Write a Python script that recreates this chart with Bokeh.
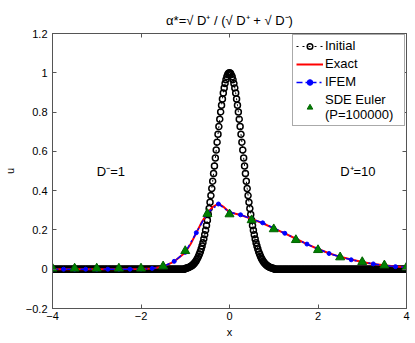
from bokeh.plotting import figure
from bokeh.models import Range1d, FixedTicker, LinearAxis, Legend, LegendItem, ColumnDataSource
from bokeh.core.properties import value
from bokeh.embed import file_html
from bokeh.resources import INLINE
import numpy as np

FONT = "Liberation Sans"

# ---------------- data ----------------
x_ticks = [-4, -2, 0, 2, 4]
x_tick_labels = ["\u22124", "\u22122", "0", "2", "4"]
y_ticks = [-0.2, 0, 0.2, 0.4, 0.6, 0.8, 1, 1.2]
y_tick_labels = ["\u22120.2", "0", "0.2", "0.4", "0.6", "0.8", "1", "1.2"]

# Initial condition: sampled every 0.02 on [-4, 4]
init_x = np.round(np.arange(-4, 4.0001, 0.02), 2)
init_left = [0.0] * 150     # x = -4.00 ... -1.02
init_peak = [               # x = -1.00 ... 1.00
    0.004, 0.005, 0.006, 0.007, 0.009, 0.011, 0.014, 0.016, 0.020, 0.024,
    0.029, 0.034, 0.040, 0.048, 0.056, 0.066, 0.077, 0.089, 0.103, 0.118,
    0.135, 0.154, 0.175, 0.198, 0.223, 0.249, 0.278, 0.309, 0.341, 0.375,
    0.411, 0.448, 0.487, 0.526, 0.566, 0.607, 0.647, 0.687, 0.726, 0.764,
    0.801, 0.835, 0.867, 0.897, 0.923, 0.946, 0.965, 0.980, 0.991, 0.998,
    1.000,
    0.998, 0.991, 0.980, 0.965, 0.946, 0.923, 0.897, 0.867, 0.835, 0.801,
    0.764, 0.726, 0.687, 0.647, 0.607, 0.566, 0.526, 0.487, 0.448, 0.411,
    0.375, 0.341, 0.309, 0.278, 0.249, 0.223, 0.198, 0.175, 0.154, 0.135,
    0.118, 0.103, 0.089, 0.077, 0.066, 0.056, 0.048, 0.040, 0.034, 0.029,
    0.024, 0.020, 0.016, 0.014, 0.011, 0.009, 0.007, 0.006, 0.005, 0.004,
]
init_right = [0.0] * 150    # x = 1.02 ... 4.00
init_u = init_left + init_peak + init_right

exact_x = [-4, -3, -2, -1.75, -1.5, -1.25, -1, -0.875, -0.75, -0.625, -0.5,
           -0.375, -0.25, -0.125, 0, 0.25, 0.5, 0.75, 1, 1.25, 1.5, 1.75,
           2, 2.25, 2.5, 2.75, 3, 3.25, 3.5, 3.75, 4]
exact_u = [0.0, 0.0, 0.001, 0.004, 0.013, 0.039, 0.085, 0.130, 0.185, 0.240,
           0.285, 0.318, 0.334, 0.316, 0.290, 0.276, 0.256, 0.234, 0.208,
           0.182, 0.155, 0.128, 0.103, 0.081, 0.063, 0.049, 0.037, 0.027,
           0.020, 0.014, 0.010]

ifem_x = [-4, -3.75, -3.5, -3.25, -3, -2.75, -2.5, -2.25, -2, -1.75, -1.5,
          -1.25, -1, -0.75, -0.5, -0.25, 0, 0.25, 0.5, 0.75, 1, 1.25, 1.5,
          1.75, 2, 2.25, 2.5, 2.75, 3, 3.25, 3.5, 3.75, 4]
ifem_u = [0.0, 0.0, 0.0, 0.0, 0.0, 0.0, 0.0, 0.0, 0.001, 0.004, 0.013,
          0.040, 0.086, 0.186, 0.286, 0.332, 0.290, 0.277, 0.256, 0.236,
          0.209, 0.183, 0.155, 0.128, 0.103, 0.080, 0.063, 0.048, 0.037,
          0.027, 0.020, 0.013, 0.010]

sde_x = [-4, -3.5, -3, -2.5, -2, -1.5, -1, -0.5, 0, 0.5, 1, 1.5, 2, 2.5,
         3, 3.5, 4]
sde_u = [0.004, 0.004, 0.004, 0.004, 0.004, 0.015, 0.093, 0.282, 0.280,
         0.250, 0.204, 0.149, 0.098, 0.061, 0.037, 0.020, 0.010]

note_x = [-3, 2.5]
note_y = [0.5, 0.5]
note_text = ["D\u207b=1", "D\u207a=10"]

title_text = "\u03b1*=\u221a D\u207a / (\u221a D\u207a + \u221a D\u207b)"

# ---------------- figure ----------------
p = figure(width=415, height=343,
           x_range=Range1d(-4, 4), y_range=Range1d(-0.2, 1.2),
           output_backend="svg", toolbar_location=None,
           min_border_left=52, min_border_right=9,
           min_border_top=33, min_border_bottom=35,
           background_fill_color="white", border_fill_color="white")

p.title.text = title_text
p.title.align = "center"
p.title.text_font = FONT
p.title.text_font_size = "13px"
p.title.text_font_style = "normal"
p.title.text_color = "black"
p.title.standoff = 11

p.grid.visible = False
p.outline_line_color = "#555555"

AX_COL = "#555555"

def style_axis(ax, ticks, labels, show_labels=True):
    ax.ticker = FixedTicker(ticks=ticks)
    ax.axis_line_color = AX_COL
    ax.major_tick_line_color = AX_COL
    ax.major_tick_in = 4
    ax.major_tick_out = 0
    ax.minor_tick_line_color = None
    if show_labels:
        ax.major_label_overrides = {t: l for t, l in zip(ticks, labels)}
        ax.major_label_text_font = FONT
        ax.major_label_text_color = "black"
        ax.major_label_text_font_size = "11px"
        ax.major_label_standoff = 3
    else:
        ax.major_label_text_color = None
        ax.major_label_standoff = 0

style_axis(p.xaxis[0], x_ticks, x_tick_labels)
style_axis(p.yaxis[0], y_ticks, y_tick_labels)
p.yaxis[0].major_label_standoff = 5
p.xaxis[0].axis_label = "x"
p.yaxis[0].axis_label = "u"
for ax in (p.xaxis[0], p.yaxis[0]):
    ax.axis_label_text_font = FONT
    ax.axis_label_text_font_size = "11px"
    ax.axis_label_text_font_style = "normal"
    ax.axis_label_text_color = "black"
p.xaxis[0].axis_label_standoff = 3
p.yaxis[0].axis_label_standoff = 7

top_ax = LinearAxis()
style_axis(top_ax, x_ticks, x_tick_labels, show_labels=False)
p.add_layout(top_ax, "above")
right_ax = LinearAxis()
style_axis(right_ax, y_ticks, y_tick_labels, show_labels=False)
p.add_layout(right_ax, "right")

# ---------------- glyphs ----------------
init_src = ColumnDataSource(dict(x=init_x, u=init_u))
r_init_line = p.line("x", "u", source=init_src, line_color="black",
                     line_width=1, line_dash="dotted")
r_init_pts = p.scatter("x", "u", source=init_src, marker="circle", size=6,
                       fill_color=None, line_color="black", line_width=1.5)

r_exact = p.line(exact_x, exact_u, line_color="red", line_width=2)

r_ifem_line = p.line(ifem_x, ifem_u, line_color="blue", line_width=1.5,
                     line_dash="6 3 2 3")
r_ifem_pts = p.scatter(ifem_x, ifem_u, marker="circle", size=4,
                       fill_color="blue", line_color="blue")

r_sde = p.scatter(sde_x, sde_u, marker="triangle", size=9,
                  fill_color="#008000", line_color="#006400", line_width=1)

note_src = ColumnDataSource(dict(x=note_x, y=note_y, t=note_text))
p.text("x", "y", text="t", source=note_src, text_font=value(FONT),
       text_font_size="13px", text_align="left", text_baseline="middle",
       text_color="black")

legend = Legend(items=[
    LegendItem(label="Initial", renderers=[r_init_line, r_init_pts]),
    LegendItem(label="Exact", renderers=[r_exact]),
    LegendItem(label="IFEM", renderers=[r_ifem_line, r_ifem_pts]),
    LegendItem(label="SDE Euler\n(P=100000)", renderers=[r_sde]),
], location="top_right")
legend.label_text_font = FONT
legend.label_text_font_size = "13px"
legend.label_text_color = "black"
legend.glyph_width = 27
legend.glyph_height = 14
legend.label_height = 14
legend.label_width = 76
legend.label_standoff = 2
legend.spacing = 3
legend.padding = 3
legend.margin = 1
legend.border_line_color = "#555555"
legend.border_line_width = 1
legend.background_fill_color = "white"
legend.background_fill_alpha = 1
p.add_layout(legend, "center")

open("out.html", "w").write(file_html(p, INLINE))
